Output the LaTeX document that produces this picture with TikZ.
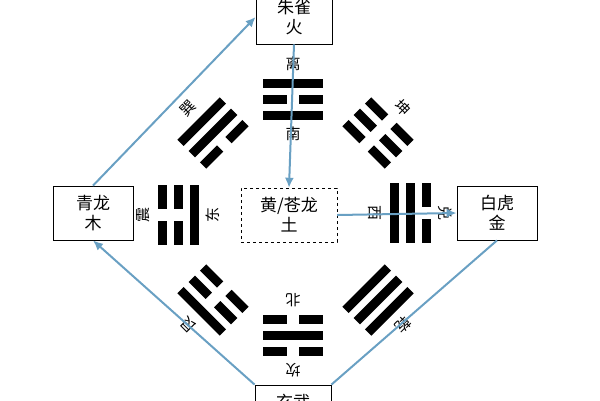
\documentclass[tikz,border=0pt]{standalone}
\usepackage{fontspec}
\setmainfont{Noto Sans CJK SC}
\usetikzlibrary{arrows.meta}
\definecolor{linkblue}{RGB}{105,160,195}
\tikzset{
  box/.style={draw, thick, fill=white, minimum width=76pt, minimum height=54pt, align=center, font=\fontsize{17}{20}\selectfont},
  link/.style={draw=linkblue, line width=2pt, -{Latex[length=10pt,width=9pt]}},
  glyph/.style={font=\fontsize{15}{15}\selectfont}
}
% draws one yao line: #1 offset, #2 solid (1) or broken (0)
\newcommand{\yao}[2]{%
  \ifnum#2=1 \fill (-30,#1-4.5) rectangle (30,#1+4.5);
  \else \fill (-30,#1-4.5) rectangle (-6,#1+4.5); \fill (6,#1-4.5) rectangle (30,#1+4.5);\fi}
% trigram: name, x, y, angle, outer label, inner label, lines inner to outer
\newcommand{\trigram}[9]{%
  \begin{scope}[shift={(#2,#3)}, rotate=#4]
  \yao{16}{#7}\yao{0}{#8}\yao{-16}{#9}
  \node[glyph, rotate=#4] (#1-out) at (0,-35) {#5};
  \node[glyph, rotate=#4] (#1-in) at (0,35) {#6};
  \end{scope}}
\begin{document}
\begin{tikzpicture}[x=1pt, y=-1pt]
\useasboundingbox (0,0) rectangle (600,400);
% trigrams
\trigram{li}{293}{99}{0}{离}{南}{1}{0}{1}
\trigram{zhen}{178}{215}{90}{震}{东}{1}{0}{0}
\trigram{dui}{410}{213}{-90}{兑}{西}{1}{1}{0}
\trigram{kan}{293}{335}{180}{坎}{北}{0}{1}{0}
\trigram{xun}{213}{133}{45}{巽}{}{0}{1}{1}
\trigram{kun}{378}{133}{-45}{坤}{}{0}{0}{0}
\trigram{gen}{213}{300}{135}{艮}{}{0}{0}{1}
\trigram{qian}{378}{300}{-135}{乾}{}{1}{1}{1}
% boxes
\node[box] (fire) at (294,17) {朱雀\\火};
\node[box, minimum width=80pt] (wood) at (93,213) {青龙\\木};
\node[box, minimum width=80pt] (metal) at (497,213) {白虎\\金};
\node[box] (water) at (293,412) {玄武\\水};
\node[box, dashed, thin, minimum width=96pt] (earth) at (289,215) {黄/苍龙\\土};
% connectors
\draw[link] (water.north west) -- (wood.south);
\draw[link] (wood.north) -- (fire.west);
\draw[link] (fire.south) -- (earth.north);
\draw[link] (earth.east) -- (metal.west);
\draw[link, -] (metal.south) -- (water.north east);
\end{tikzpicture}
\end{document}
